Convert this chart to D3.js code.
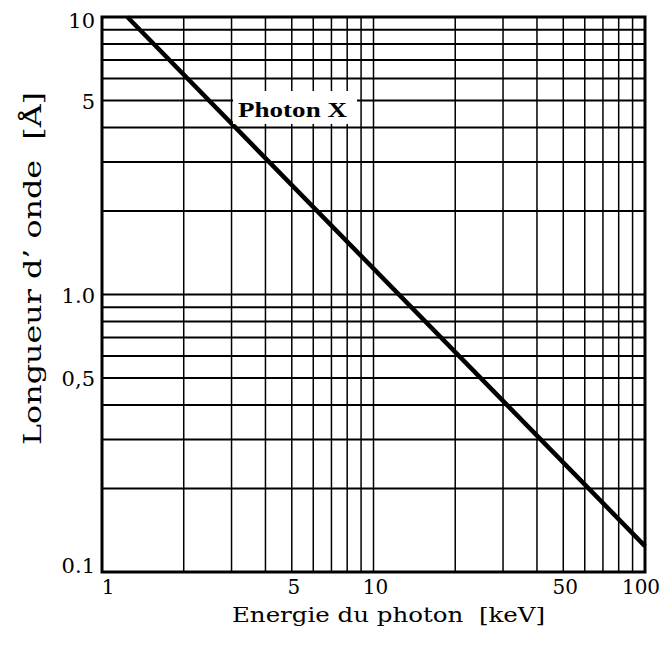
<!DOCTYPE html>
<html><head><meta charset="utf-8">
<script src="https://cdn.jsdelivr.net/npm/d3@7"></script>
<style>body{margin:0;background:#fff;} text{white-space:pre;}</style>
</head><body>
<svg id="c" width="664" height="651"></svg>
<script>
const xTicks = [1, 5, 10, 50, 100];
const xTickLabels = ["1", "5", "10", "50", "100"];
const yTicks = [0.1, 0.5, 1, 5, 10];
const yTickLabels = ["0.1", "0,5", "1.0", "5", "10"];
const xGrid = [2,3,4,5,6,7,8,9,10,20,30,40,50,60,70,80,90];
const yGrid = [0.2,0.3,0.4,0.5,0.6,0.7,0.8,0.9,1,2,3,4,5,6,7,8,9];
const energies = [1.24, 100];           // keV
const wavelengths = [10, 0.124];        // Å  (λ = 12.4 / E)
const seriesLabel = "Photon X";

const svg = d3.select("#c");
const L = 102, R = 645, T = 17, B = 572;
const x = d3.scaleLog().domain([1, 100]).range([L, R]);
const y = d3.scaleLog().domain([0.1, 10]).range([B, T]);
const font = "'DejaVu Serif', 'Liberation Serif', serif";

// grid
svg.append("g").selectAll("line").data(xGrid).join("line")
  .attr("x1", d => x(d)).attr("x2", d => x(d)).attr("y1", T).attr("y2", B)
  .attr("stroke", "#000").attr("stroke-width", 1.5);
svg.append("g").selectAll("line").data(yGrid).join("line")
  .attr("x1", L).attr("x2", R).attr("y1", d => y(d)).attr("y2", d => y(d))
  .attr("stroke", "#000").attr("stroke-width", 2);

// line
const pts = energies.map((e, i) => [e, wavelengths[i]]);
svg.append("path").datum(pts)
  .attr("d", d3.line().x(d => x(d[0])).y(d => y(d[1])))
  .attr("stroke", "#000").attr("stroke-width", 4.5).attr("fill", "none");

// label with white box
svg.append("rect").attr("x", 233).attr("y", 91).attr("width", 124).attr("height", 33).attr("fill", "#fff");
svg.append("text").attr("x", 238).attr("y", 117).text(seriesLabel)
  .attr("font-family", "'Liberation Serif', serif").attr("font-weight", "bold").attr("font-size", 22)
  .attr("textLength", 109).attr("lengthAdjust", "spacingAndGlyphs");

// border
svg.append("rect").attr("x", L).attr("y", T).attr("width", R - L).attr("height", B - T)
  .attr("fill", "none").attr("stroke", "#000").attr("stroke-width", 3);

// tick labels
svg.append("g").selectAll("text").data(yTicks).join("text")
  .attr("x", L - 7).attr("y", (d) => d === 0.1 ? y(d) + 1 : (d === 10 ? y(d) + 11 : y(d) + 8))
  .attr("text-anchor", "end").attr("font-family", font).attr("font-size", 21)
  .text((d, i) => yTickLabels[i]);
svg.append("g").selectAll("text").data(xTicks).join("text")
  .attr("x", d => d === 1 ? x(d) + 6 : (d === 100 ? x(d) - 4 : x(d) + 2))
  .attr("y", B + 22)
  .attr("text-anchor", "middle").attr("font-family", font).attr("font-size", 20)
  .text((d, i) => xTickLabels[i]);

// axis titles
svg.append("text").attr("x", 232).attr("y", 622)
  .attr("font-family", font).attr("font-size", 21)
  .attr("textLength", 313).attr("lengthAdjust", "spacingAndGlyphs")
  .text("Energie du photon  [keV]");
svg.append("text").attr("transform", "translate(41,445) rotate(-90)")
  .attr("font-family", font).attr("font-size", 25)
  .attr("textLength", 353).attr("lengthAdjust", "spacingAndGlyphs")
  .text("Longueur d’ onde  [Å]");
</script>
</body></html>
